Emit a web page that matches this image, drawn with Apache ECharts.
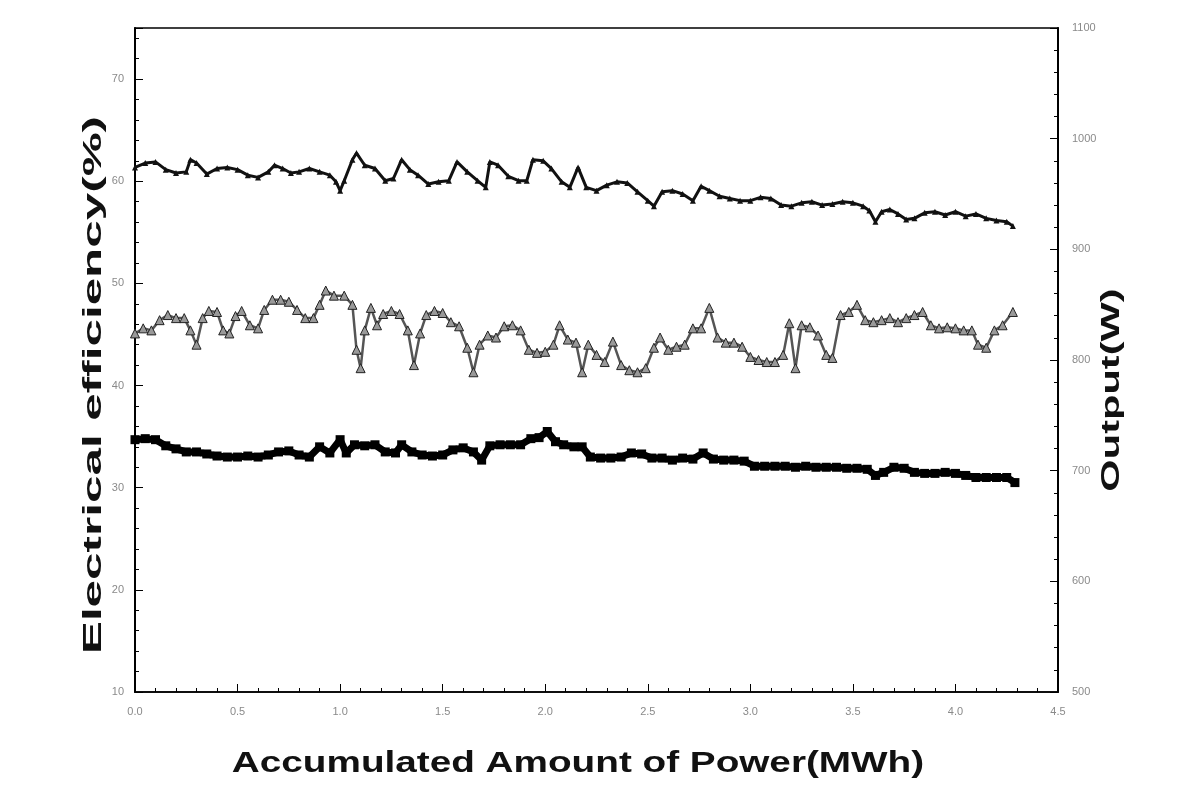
<!DOCTYPE html>
<html><head><meta charset="utf-8">
<script src="https://cdn.jsdelivr.net/npm/echarts@6/dist/echarts.min.js"></script>
<style>html,body{margin:0;padding:0;background:#fff}#c{width:1199px;height:791px}</style>
</head><body><div id="c"></div>
<script>
// Output (W) series - top band (right axis)
const outX = [0.00,0.05,0.10,0.15,0.20,0.25,0.27,0.30,0.35,0.40,0.45,0.50,0.55,0.60,0.65,0.68,0.72,0.76,0.80,0.85,0.90,0.95,0.98,1.00,1.02,1.06,1.08,1.12,1.17,1.22,1.26,1.30,1.34,1.38,1.43,1.48,1.53,1.57,1.62,1.67,1.71,1.73,1.77,1.82,1.87,1.91,1.94,1.99,2.03,2.08,2.12,2.16,2.20,2.25,2.30,2.35,2.40,2.45,2.50,2.53,2.57,2.62,2.67,2.72,2.76,2.80,2.85,2.90,2.95,3.00,3.05,3.10,3.15,3.20,3.25,3.30,3.35,3.40,3.45,3.50,3.55,3.58,3.61,3.64,3.68,3.72,3.76,3.80,3.85,3.90,3.95,4.00,4.05,4.10,4.15,4.20,4.25,4.28];
const outW = [974,978,979,972,969,970,981,978,968,973,974,972,967,965,970,976,973,969,970,973,970,967,961,953,962,981,987,976,973,962,964,981,972,967,959,961,962,979,970,962,956,979,976,966,962,962,981,980,973,961,956,974,956,953,958,961,960,952,944,939,952,953,950,944,957,953,948,946,944,944,947,946,940,939,942,943,940,941,943,942,939,935,925,934,936,932,927,928,933,934,931,934,930,932,928,926,925,921];

// Electrical efficiency (%) - middle band (left axis)
const effX = [0.00,0.04,0.08,0.12,0.16,0.20,0.24,0.27,0.30,0.33,0.36,0.40,0.43,0.46,0.49,0.52,0.56,0.60,0.63,0.67,0.71,0.75,0.79,0.83,0.87,0.90,0.93,0.97,1.02,1.06,1.08,1.10,1.12,1.15,1.18,1.21,1.25,1.29,1.33,1.36,1.39,1.42,1.46,1.50,1.54,1.58,1.62,1.65,1.68,1.72,1.76,1.80,1.84,1.88,1.92,1.96,2.00,2.04,2.07,2.11,2.15,2.18,2.21,2.25,2.29,2.33,2.37,2.41,2.45,2.49,2.53,2.56,2.60,2.64,2.68,2.72,2.76,2.80,2.84,2.88,2.92,2.96,3.00,3.04,3.08,3.12,3.16,3.19,3.22,3.25,3.29,3.33,3.37,3.40,3.44,3.48,3.52,3.56,3.60,3.64,3.68,3.72,3.76,3.80,3.84,3.88,3.92,3.96,4.00,4.04,4.08,4.11,4.15,4.19,4.23,4.28];
const effPct = [45.1,45.6,45.4,46.4,46.9,46.6,46.6,45.4,44.0,46.6,47.3,47.2,45.4,45.1,46.8,47.3,45.9,45.6,47.4,48.4,48.4,48.2,47.4,46.6,46.6,47.9,49.3,48.8,48.8,47.9,43.5,41.7,45.4,47.6,45.9,47.0,47.3,47.0,45.4,42.0,45.1,46.9,47.3,47.1,46.2,45.8,43.7,41.3,44.0,44.9,44.7,45.8,45.9,45.4,43.5,43.2,43.3,44.0,45.9,44.5,44.2,41.3,44.0,43.0,42.3,44.3,42.0,41.5,41.3,41.7,43.7,44.7,43.5,43.8,44.0,45.6,45.6,47.6,44.7,44.2,44.2,43.8,42.8,42.5,42.3,42.3,43.0,46.1,41.7,45.9,45.7,44.9,43.0,42.7,46.9,47.2,47.9,46.4,46.2,46.4,46.6,46.2,46.6,46.9,47.2,45.9,45.6,45.7,45.6,45.4,45.4,44.0,43.7,45.4,45.9,47.2];

// Lower band (left axis)
const lowX = [0.00,0.05,0.10,0.15,0.20,0.25,0.30,0.35,0.40,0.45,0.50,0.55,0.60,0.65,0.70,0.75,0.80,0.85,0.90,0.95,1.00,1.03,1.07,1.12,1.17,1.22,1.27,1.30,1.35,1.40,1.45,1.50,1.55,1.60,1.65,1.69,1.73,1.78,1.83,1.88,1.93,1.97,2.01,2.05,2.09,2.14,2.18,2.22,2.27,2.32,2.37,2.42,2.47,2.52,2.57,2.62,2.67,2.72,2.77,2.82,2.87,2.92,2.97,3.02,3.07,3.12,3.17,3.22,3.27,3.32,3.37,3.42,3.47,3.52,3.57,3.61,3.65,3.70,3.75,3.80,3.85,3.90,3.95,4.00,4.05,4.10,4.15,4.20,4.25,4.29];
const lowPct = [34.7,34.8,34.7,34.1,33.8,33.5,33.5,33.3,33.1,33.0,33.0,33.1,33.0,33.2,33.5,33.6,33.2,33.0,34.0,33.4,34.7,33.4,34.2,34.1,34.2,33.5,33.4,34.2,33.5,33.2,33.1,33.2,33.7,33.9,33.5,32.7,34.1,34.2,34.2,34.2,34.8,34.9,35.5,34.5,34.2,34.0,34.0,33.0,32.9,32.9,33.0,33.4,33.3,32.9,32.9,32.7,32.9,32.8,33.4,32.8,32.7,32.7,32.6,32.1,32.1,32.1,32.1,32.0,32.1,32.0,32.0,32.0,31.9,31.9,31.8,31.2,31.5,32.0,31.9,31.5,31.4,31.4,31.5,31.4,31.2,31.0,31.0,31.0,31.0,30.5];

const xTicks = [0,0.5,1,1.5,2,2.5,3,3.5,4,4.5];
const leftTicks = [10,20,30,40,50,60,70];
const rightTicks = [500,600,700,800,900,1000,1100];
const xName = 'Accumulated Amount of Power(MWh)';
const leftName = 'Electrical efficiency(%)';
const rightName = 'Output(W)';

const zip = (a,b) => a.map((v,i)=>[v,b[i]]);
const chart = echarts.init(document.getElementById('c'), null, {renderer:'canvas'});
const lblStyle = {color:'#8a8a8a', fontSize:11, fontFamily:'Liberation Sans'};
const nameFont = {fill:'#111', fontWeight:'bold', fontFamily:'Liberation Sans', align:'center', verticalAlign:'middle'};
chart.setOption({
  animation:false,
  backgroundColor:'#fff',
  grid:{left:135, right:141, top:28, bottom:99, show:true, borderColor:'#000', borderWidth:1.5},
  xAxis:{type:'value', min:xTicks[0], max:xTicks[xTicks.length-1], interval:0.5,
    axisLine:{lineStyle:{color:'#000', width:1.5}},
    axisTick:{inside:true, length:8, lineStyle:{color:'#000'}},
    minorTick:{show:true, splitNumber:5, length:4, lineStyle:{color:'#000'}},
    splitLine:{show:false},
    axisLabel:Object.assign({margin:14, formatter:v=>v.toFixed(1)}, lblStyle)},
  yAxis:[
    {type:'value', position:'left', min:leftTicks[0], max:75, interval:10,
     axisLine:{show:true, lineStyle:{color:'#000', width:2}},
     axisTick:{inside:true, length:8, lineStyle:{color:'#000'}},
     minorTick:{show:true, splitNumber:5, length:4, lineStyle:{color:'#000'}},
     splitLine:{show:false},
     axisLabel:Object.assign({margin:11, showMaxLabel:false}, lblStyle)},
    {type:'value', position:'right', min:rightTicks[0], max:rightTicks[rightTicks.length-1], interval:100,
     axisLine:{show:true, lineStyle:{color:'#000', width:2}},
     axisTick:{inside:true, length:8, lineStyle:{color:'#000'}},
     minorTick:{show:true, splitNumber:5, length:4, lineStyle:{color:'#000'}},
     splitLine:{show:false},
     axisLabel:Object.assign({margin:14, formatter:v=>String(v)}, lblStyle)}
  ],
  graphic:[
    {type:'text', x:578, y:764, scaleX:1.29, style:Object.assign({text:xName, fontSize:30}, nameFont)},
    {type:'text', x:94, y:385, rotation:Math.PI/2, scaleX:1.9, style:Object.assign({text:leftName, fontSize:26}, nameFont)},
    {type:'text', x:1112, y:390, rotation:Math.PI/2, scaleX:1.6, style:Object.assign({text:rightName, fontSize:26}, nameFont)}
  ],
  series:[
    {name:'Output', type:'line', yAxisIndex:1, data:zip(outX,outW),
     symbol:'triangle', symbolSize:6, lineStyle:{color:'#111', width:3},
     itemStyle:{color:'#111'}},
    {name:'Electrical efficiency', type:'line', yAxisIndex:0, data:zip(effX,effPct),
     symbol:'triangle', symbolSize:9, lineStyle:{color:'#555', width:2.5},
     itemStyle:{color:'#999', borderColor:'#222', borderWidth:1}},
    {name:'Lower', type:'line', yAxisIndex:0, data:zip(lowX,lowPct),
     symbol:'rect', symbolSize:9, lineStyle:{color:'#000', width:7},
     itemStyle:{color:'#000'}}
  ]
});
</script></body></html>
